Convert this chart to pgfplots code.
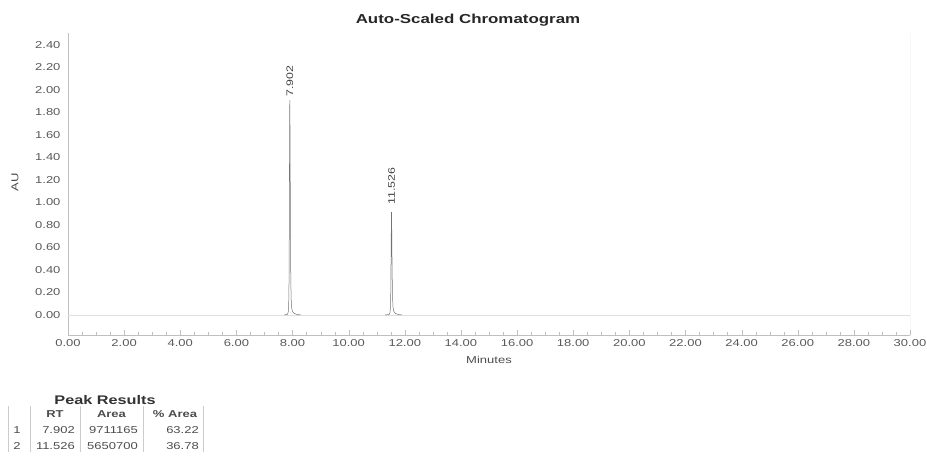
\documentclass[border=0pt]{standalone}
\usepackage{pgfplots}
\pgfplotsset{compat=1.18}
\usepackage{fontspec}
\setmainfont{Liberation Sans}
\newfontfamily\wide[FakeStretch=1.3]{Liberation Sans}
\begin{document}
\begin{tikzpicture}[x=1pt,y=1pt]
\useasboundingbox (0,0) rectangle (927,457);
\begin{axis}[
  at={(68pt,122pt)}, anchor=south west,
  width=842pt, height=302pt, scale only axis,
  xmin=0, xmax=30, ymin=-0.178, ymax=2.507,
  axis x line*=bottom, axis y line*=left,
  axis line style={black!25, line width=0.6pt, -},
  xtick={0,2,...,30},
  minor x tick num=3,
  ytick={0,0.2,0.4,0.6,0.8,1.0,1.2,1.4,1.6,1.8,2.0,2.2,2.4},
  tick align=inside,
  major tick length=5pt, minor tick length=3pt,
  x tick style={black!25},
  y tick style={draw=none},
  tick label style={font=\wide\fontsize{10}{12}\selectfont, text=black!65},
  xticklabel style={yshift=-1pt},
  yticklabel style={xshift=-4pt},
  /pgf/number format/fixed, /pgf/number format/fixed zerofill,
  /pgf/number format/precision=2, /pgf/number format/assume math mode=true,
]
% faint baseline
\addplot[black!12, line width=0.5pt] coordinates {(0,0) (7.8,0) (8.3,0) (11.4,0) (11.9,0) (30,0)};
% peak 1
\addplot[black!55, line width=0.5pt] coordinates {
(7.70,0) (7.82,0.005) (7.85,0.03) (7.87,0.15) (7.88,0.45) (7.89,1.2) (7.897,1.75)
(7.902,1.91) (7.908,1.78) (7.915,1.40) (7.925,0.80) (7.935,0.40) (7.95,0.15)
(7.97,0.06) (8.00,0.03) (8.05,0.015) (8.15,0.005) (8.3,0)};
% peak 2
\addplot[black!55, line width=0.5pt] coordinates {
(11.30,0) (11.45,0.005) (11.48,0.03) (11.50,0.2) (11.51,0.5) (11.52,0.82)
(11.526,0.915) (11.532,0.84) (11.54,0.62) (11.55,0.35) (11.565,0.15) (11.58,0.07)
(11.61,0.03) (11.66,0.015) (11.75,0.005) (11.9,0)};
\node[rotate=90, anchor=west, font=\wide\fontsize{9.5}{10}\selectfont, text=black!75, inner sep=2pt] at (axis cs:7.902,1.92) {7.902};
\node[rotate=90, anchor=west, font=\wide\fontsize{9.5}{10}\selectfont, text=black!75, inner sep=2pt] at (axis cs:11.526,0.96) {11.526};
\draw[black!25, line width=0.6pt] (rel axis cs:1,0) -- (rel axis cs:1,1);
\end{axis}
% title and labels
\node[font=\wide\bfseries\fontsize{13}{15}\selectfont, text=black!85] at (468,437) {Auto-Scaled Chromatogram};
\node[rotate=90, font=\wide\fontsize{10}{12}\selectfont, text=black!70] at (15,275) {AU};
\node[font=\wide\fontsize{10}{12}\selectfont, text=black!70] at (489,97) {Minutes};
% peak results table
\node[font=\wide\bfseries\fontsize{12.5}{14}\selectfont, text=black!80] at (105,57) {Peak Results};
\foreach \xx in {8,30,80,143,203} {\draw[black!20, line width=0.6pt] (\xx,51) -- (\xx,5);}
\begin{scope}[every node/.style={font=\wide\fontsize{10}{12}\selectfont, text=black!70, inner sep=0pt}]
\node[font=\wide\bfseries\fontsize{10}{12}\selectfont] at (55,43) {RT};
\node[font=\wide\bfseries\fontsize{10}{12}\selectfont] at (111.5,43) {Area};
\node[font=\wide\bfseries\fontsize{10}{12}\selectfont] at (175,43) {\% Area};
\node at (17,27) {1};
\node[anchor=east] at (75,27) {7.902};
\node[anchor=east] at (138,27) {9711165};
\node[anchor=east] at (199,27) {63.22};
\node at (17,11) {2};
\node[anchor=east] at (75,11) {11.526};
\node[anchor=east] at (138,11) {5650700};
\node[anchor=east] at (199,11) {36.78};
\end{scope}
\end{tikzpicture}
\end{document}
